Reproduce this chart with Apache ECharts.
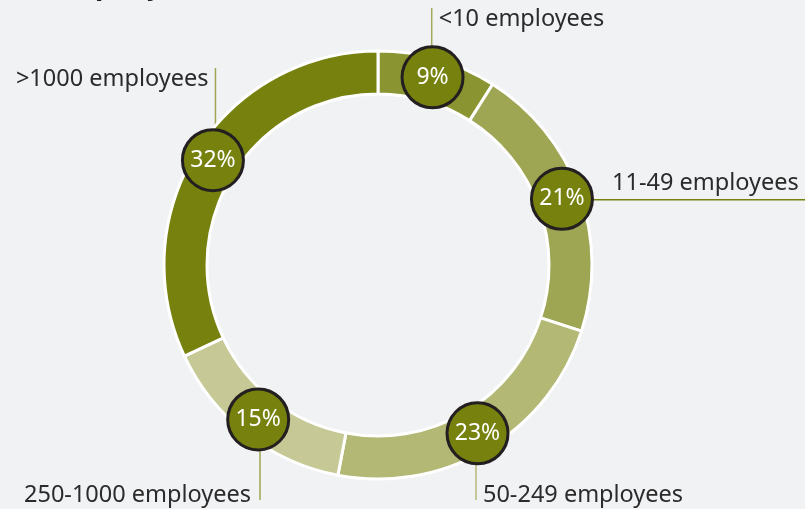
<!DOCTYPE html>
<html>
<head>
<meta charset="utf-8">
<script src="https://cdn.jsdelivr.net/npm/echarts@6/dist/echarts.min.js"></script>
<style>
  html, body { margin: 0; padding: 0; background: #f1f2f4; }
  #chart { width: 805px; height: 509px; }
</style>
</head>
<body>
<div id="chart"></div>
<script>
// Company size breakdown (share of respondents, %)
const categories = ['<10 employees', '11-49 employees', '50-249 employees', '250-1000 employees', '>1000 employees'];
const shares = [9, 21, 23, 15, 32];
const sliceColors = ['#8a9430', '#9ea553', '#b3b875', '#c6c996', '#76810e'];
const leaderColors = ['#a3aa5e', '#76810e', '#b3b875', '#9ea553', '#9ea553'];

const CENTER = [378, 265];
const R_IN = 171, R_OUT = 214;
const R_MID = (R_IN + R_OUT) / 2;
const BADGE_R = 32;

// Leader line routing for each outside label
const leaders = [
  { dir: 'up',    end: 8,   textY: 19,  dx: 7,   align: 'left'  },
  { dir: 'right', end: 805, textY: -16, dx: 53,  align: 'left'  },
  { dir: 'down',  end: 500, textY: 495, dx: 7,   align: 'left'  },
  { dir: 'down',  end: 500, textY: 495, dx: -9,  align: 'right' },
  { dir: 'up',    end: 68,  textY: 79,  dx: -7,  align: 'right' }
];

const total = shares.reduce((a, b) => a + b, 0);
function badgeCenter(i) {
  let cum = 0;
  for (let k = 0; k < i; k++) cum += shares[k];
  const frac = (cum + shares[i] / 2) / total;
  const ang = frac * Math.PI * 2; // clockwise from 12 o'clock
  return [CENTER[0] + R_MID * Math.sin(ang), CENTER[1] - R_MID * Math.cos(ang)];
}

const pieData = categories.map((name, i) => ({
  name: name,
  value: shares[i],
  itemStyle: { color: sliceColors[i] }
}));

const chart = echarts.init(document.getElementById('chart'), null, { renderer: 'canvas' });
chart.setOption({
  backgroundColor: '#f1f2f4',
  animation: false,
  title: {
    text: 'Company size',
    left: 31,
    top: -27,
    textStyle: { fontFamily: 'DejaVu Sans', fontWeight: 'bold', fontSize: 24, color: '#231f20' }
  },
  series: [
    {
      type: 'pie',
      center: CENTER,
      radius: [R_IN, R_OUT],
      startAngle: 90,
      clockwise: true,
      silent: true,
      avoidLabelOverlap: false,
      itemStyle: { borderColor: '#ffffff', borderWidth: 3 },
      label: {
        show: true,
        position: 'inside',
        formatter: p => p.value + '%',
        color: '#ffffff',
        fontFamily: 'Noto Sans',
        fontSize: 23,
        width: 58,
        height: 58,
        lineHeight: 58,
        align: 'center',
        verticalAlign: 'middle',
        backgroundColor: '#76810e',
        borderColor: '#231f20',
        borderWidth: 3,
        borderRadius: 32
      },
      labelLine: { show: false },
      data: pieData
    },
    {
      type: 'pie',
      center: CENTER,
      radius: [R_IN, R_OUT],
      startAngle: 90,
      clockwise: true,
      silent: true,
      avoidLabelOverlap: false,
      itemStyle: { color: 'transparent', borderWidth: 0 },
      label: {
        show: true,
        position: 'outside',
        formatter: p => p.name,
        color: '#2b2b2b',
        fontFamily: 'Noto Sans',
        fontSize: 23.5
      },
      labelLine: { show: true, lineStyle: { width: 1.5 } },
      labelLayout: function (params) {
        const i = params.dataIndex;
        const c = badgeCenter(i);
        const L = leaders[i];
        let start, end, x, y;
        if (L.dir === 'up') {
          start = [c[0], c[1] - BADGE_R];
          end = [c[0], L.end];
          x = c[0] + L.dx; y = L.textY;
        } else if (L.dir === 'down') {
          start = [c[0], c[1] + BADGE_R];
          end = [c[0], L.end];
          x = c[0] + L.dx; y = L.textY;
        } else {
          start = [c[0] + BADGE_R, c[1]];
          end = [L.end, c[1]];
          x = c[0] + L.dx; y = c[1] + L.textY;
        }
        const mid = [(start[0] + end[0]) / 2, (start[1] + end[1]) / 2];
        return {
          x: x, y: y,
          align: L.align,
          verticalAlign: 'middle',
          labelLinePoints: [start, mid, end]
        };
      },
      data: categories.map((name, i) => ({
        name: name,
        value: shares[i],
        labelLine: { lineStyle: { color: leaderColors[i] } }
      }))
    }
  ]
});
</script>
</body>
</html>
